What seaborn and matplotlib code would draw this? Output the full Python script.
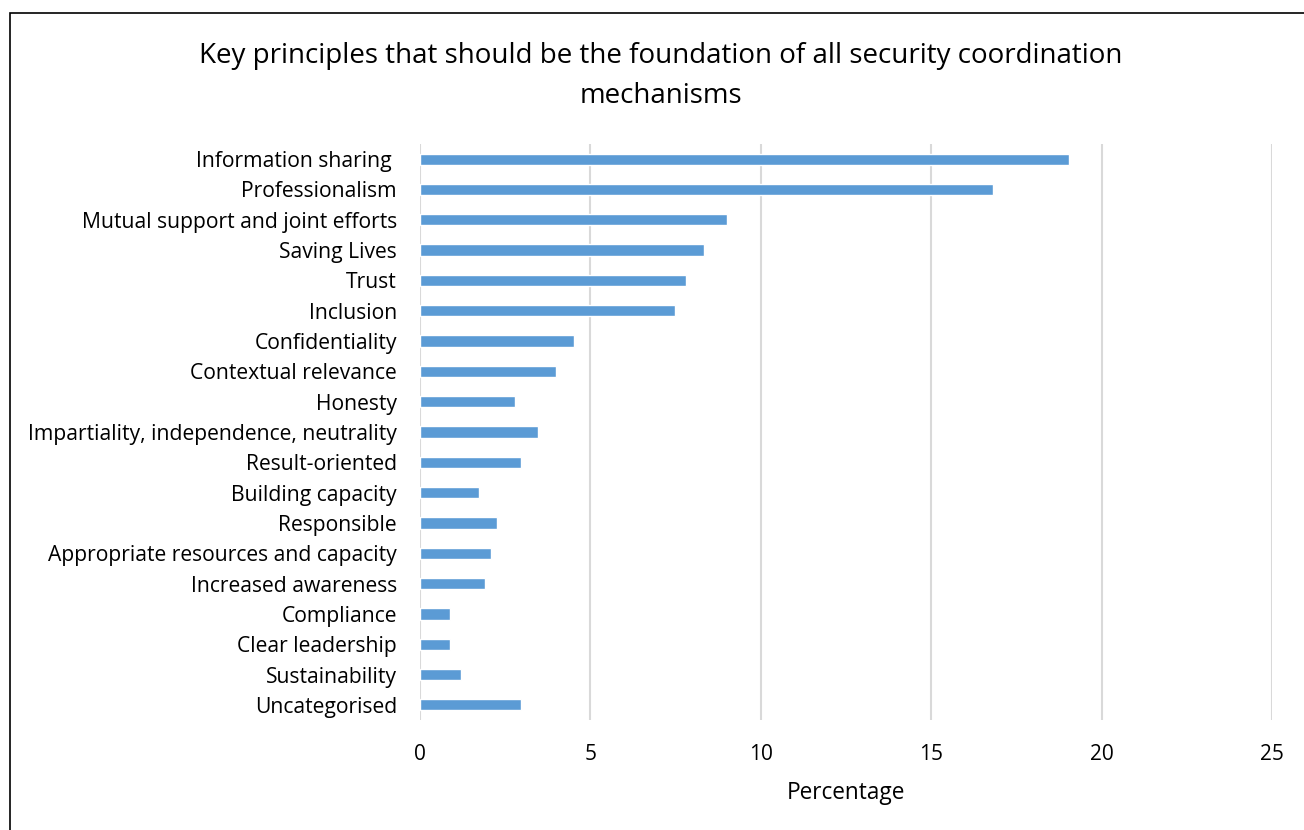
import matplotlib
matplotlib.use("Agg")
import matplotlib.pyplot as plt
import seaborn as sns
import pandas as pd
from matplotlib.patches import Rectangle

categories = [
    "Information sharing ", "Professionalism", "Mutual support and joint efforts",
    "Saving Lives", "Trust", "Inclusion", "Confidentiality", "Contextual relevance",
    "Honesty", "Impartiality, independence, neutrality", "Result-oriented",
    "Building capacity", "Responsible", "Appropriate resources and capacity",
    "Increased awareness", "Compliance", "Clear leadership", "Sustainability",
    "Uncategorised",
]
values = [19.05, 16.8, 9.0, 8.33, 7.81, 7.47, 4.51, 3.98, 2.78, 3.47, 2.95,
          1.74, 2.26, 2.09, 1.90, 0.87, 0.87, 1.21, 2.95]
xticks = [0, 5, 10, 15, 20, 25]

sns.set_theme(style="white")
plt.rcParams['font.family'] = ['Open Sans', 'DejaVu Sans']

df = pd.DataFrame({"cat": categories, "val": values})

W, H = 1304, 830
fig = plt.figure(figsize=(W / 100, H / 100), dpi=100)
ax = fig.add_axes([420 / W, 1 - 720 / H, (1272 - 420) / W, (720 - 144) / H])

sns.barplot(data=df, x="val", y="cat", orient="h", color="#5B9BD5",
            saturation=1, width=0.37, ax=ax)

ax.set_xlim(0, 25)
ax.set_xticks(xticks)
ax.set_xticklabels([str(t) for t in xticks], fontsize=15, color="#000000")
ax.tick_params(axis="x", length=0, pad=17)
ax.tick_params(axis="y", length=0, pad=16.5, labelsize=15.2, labelcolor="#000000")
ax.xaxis.grid(True, color="#D9D9D9", linewidth=1.5)
ax.set_axisbelow(True)
for s in ax.spines.values():
    s.set_visible(False)
ax.set_ylabel("")
ax.set_xlabel("Percentage", fontsize=16.3, color="#000000", labelpad=12)

fig.text(661 / W, 1 - 76 / H,
         "Key principles that should be the foundation of all security coordination\nmechanisms",
         ha="center", va="center", fontsize=20, color="#000000", linespacing=1.55)

fig.patches.append(Rectangle((10 / W, -0.1), 1.2, 1 - 13 / H + 0.1,
                             transform=fig.transFigure, fill=False,
                             edgecolor="#000000", linewidth=1.2))

fig.savefig("out.png", dpi=100, facecolor="white")
